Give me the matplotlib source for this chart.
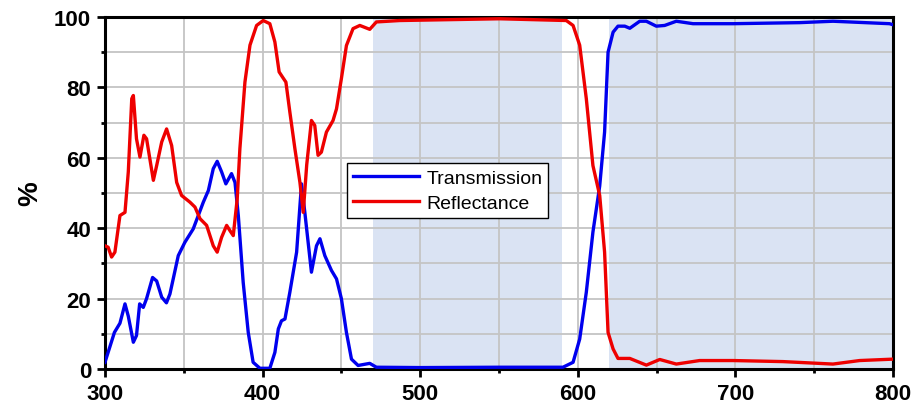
import matplotlib.pyplot as plt
from matplotlib.ticker import MultipleLocator

# wavelength (nm) / percent values
trans_x = [300, 306, 309.5, 312.7, 314.8, 318, 320, 322, 324.3, 326.4, 330.2, 332.8, 336, 339,
           341.2, 343.3, 346.5, 350.7, 356, 359.2, 362.4, 365.6, 368.7, 371.2, 374, 376.7, 380.3,
           382.5, 384.6, 387.7, 390.9, 394, 398.3, 404.6, 407.8, 410, 412, 414.2, 417.3, 421.6,
           424.7, 426.8, 431, 434.2, 436.4, 439.5, 443.7, 446.9, 450, 453.2, 456.4, 460.6, 468,
           472.2, 500, 550, 590.6, 597, 601.2, 605.4, 609.6, 613.9, 617, 619.2, 622.4, 625.5,
           629.8, 633, 639.3, 643.5, 649.8, 655.1, 662.5, 673.1, 698.5, 740.7, 761.9, 797.8, 800]
trans_y = [1.9, 10.4, 13, 18.5, 15, 7.6, 9.5, 18.5, 17.5, 20, 26, 25, 20.4, 18.8,
           21.3, 25.6, 32.2, 36, 39.8, 43.6, 47.4, 50.7, 56.9, 59, 56, 52.6, 55.5,
           53, 43.6, 24.6, 10.4, 1.9, 0.2, 0.2, 4.7, 11.4, 13.7, 14.2, 21.8, 33.2,
           52.6, 44.5, 27.5, 35, 37, 32.2, 28, 25.6, 20, 10.4, 2.8, 1, 1.6,
           0.5, 0.4, 0.5, 0.5, 1.9, 8.5, 21.8, 38.9, 52, 67.3, 90, 95.7, 97.4,
           97.4, 96.8, 98.8, 98.8, 97.4, 97.6, 98.8, 98.1, 98.1, 98.4, 98.8, 98.1, 97.8]

refl_x = [300, 302, 304.2, 306.3, 309.5, 312.7, 314.8, 317, 318, 320, 322.2, 324.7, 326.4,
          330.7, 332.8, 336, 339.1, 342.3, 345.5, 348.6, 353.9, 357.1, 360.3, 364.5, 368.7,
          371.2, 374, 377.2, 379.3, 381.4, 383.9, 385.6, 388.8, 392, 396.2, 400.4, 404.6,
          407.8, 410.5, 412.7, 414.8, 417.3, 420.5, 423.7, 425.8, 428, 431, 433.1, 435.2,
          437.3, 440.5, 444.7, 446.9, 450, 453.2, 457.4, 461.7, 468, 472.2, 487, 550.4,
          592.7, 597, 601.2, 605.4, 609.6, 613.9, 617, 619.2, 622.4, 625.5, 633, 643.5,
          652, 662.5, 677.3, 698.5, 730.2, 761.9, 778.8, 800]
refl_y = [35, 34.6, 31.8, 33.2, 43.6, 44.5, 56, 76.8, 77.7, 65.4, 60.2, 66.4, 65.4,
          53.6, 57.8, 64.5, 68.2, 63.5, 53, 49.3, 47.4, 46, 42.7, 40.8, 35,
          33.2, 37.4, 40.8, 39.3, 37.9, 48.3, 62.6, 81.5, 92, 97.6, 99, 98.1,
          92.9, 84.4, 82.9, 81.5, 73, 62.6, 53, 44.5, 58, 70.6, 69.2, 60.7,
          61.6, 67.3, 70.6, 73.9, 82.5, 91.9, 96.7, 97.6, 96.5, 98.6, 99, 99.5,
          99, 97.6, 92, 76.8, 57.8, 49.3, 33.2, 10.4, 5.7, 3, 3, 1.1,
          2.7, 1.4, 2.4, 2.4, 2.1, 1.4, 2.4, 2.8]

bands = [(470, 590), (620, 800)]

fig = plt.figure(figsize=(9.16, 4.14), dpi=100)
ax = fig.add_axes([0.1146, 0.1063, 0.8603, 0.8502])

for lo, hi in bands:
    ax.axvspan(lo, hi, color='#dae3f3', zorder=0, lw=0)

ax.plot(trans_x, trans_y, color='#0000ee', linewidth=2.4, label='Transmission', zorder=3,
        solid_joinstyle='round')
ax.plot(refl_x, refl_y, color='#ee0000', linewidth=2.4, label='Reflectance', zorder=3,
        solid_joinstyle='round')

ax.set_xlim(300, 800)
ax.set_ylim(0, 100)
ax.xaxis.set_major_locator(MultipleLocator(100))
ax.xaxis.set_minor_locator(MultipleLocator(50))
ax.yaxis.set_major_locator(MultipleLocator(20))
ax.yaxis.set_minor_locator(MultipleLocator(10))
ax.grid(True, which='both', color='#c4c4c4', linewidth=1.3, zorder=1)
ax.set_axisbelow(True)

for sp in ax.spines.values():
    sp.set_linewidth(2.2)
ax.tick_params(which='major', direction='out', length=6, width=2, pad=4)
ax.tick_params(which='minor', direction='out', length=3, width=2)
ax.tick_params(top=False, right=False)
for lab in ax.get_xticklabels() + ax.get_yticklabels():
    lab.set_fontfamily('Liberation Sans')
    lab.set_fontweight('bold')
    lab.set_fontsize(16)

ax.set_ylabel('%', fontfamily='Liberation Sans', fontweight='bold', fontsize=20, labelpad=8)

leg = ax.legend(loc='upper left', bbox_to_anchor=(0.307, 0.585), frameon=True, fancybox=False,
                edgecolor='black', framealpha=1, handlelength=3.4, borderpad=0.3,
                labelspacing=0.4, handletextpad=0.4, borderaxespad=0,
                prop={'family': 'Liberation Sans', 'size': 14})
leg.get_frame().set_linewidth(1.0)

fig.savefig('out.png', dpi=100)
